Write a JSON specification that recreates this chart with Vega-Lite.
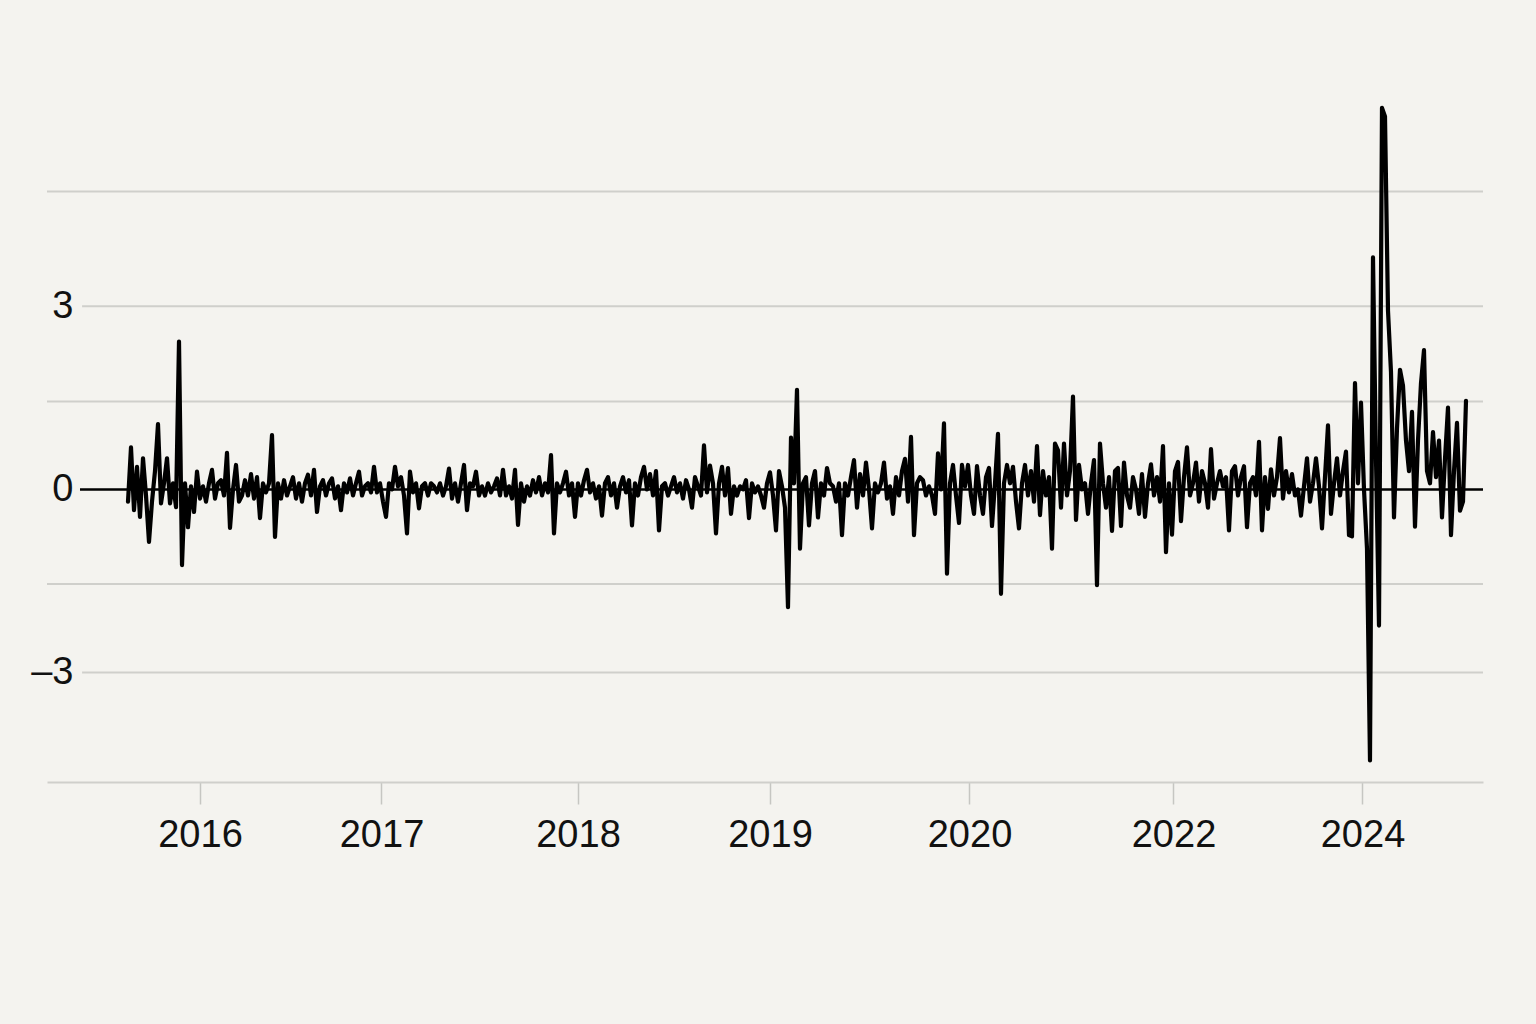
{
"$schema":"https://vega.github.io/schema/vega-lite/v6.json",
"width":1436,"height":692,
"autosize":{"type":"none"},
"padding":{"left":47,"top":90,"right":53,"bottom":242},
"background":"#f4f3ef",
"config":{"view":{"stroke":null},"font":"Liberation Sans"},
"layer":[
{"data":{"values":[{"g":4.88},{"g":1.44},{"g":-1.55}]},
 "mark":{"type":"rule","color":"#cfcfcb","strokeWidth":2},
 "encoding":{"y":{"field":"g","type":"quantitative","title":null,"scale":{"domain":[-4.793,6.542],"nice":false,"zero":false}}}},
{"data":{"values":[{"g":3},{"g":-3}]},
 "mark":{"type":"rule","color":"#cfcfcb","strokeWidth":2},
 "encoding":{"y":{"field":"g","type":"quantitative","title":null},
  "x":{"datum":-15.3,"type":"quantitative","title":null},"x2":{"datum":451.67}}},
{"data":{"values":[{"g":0}]},
 "mark":{"type":"rule","color":"#000","strokeWidth":2.5},
 "encoding":{"y":{"field":"g","type":"quantitative","title":null},
  "x":{"datum":-16,"type":"quantitative","title":null},"x2":{"datum":451.67}}},
{"data":{"values":[
{"t":0,"v":-0.2},{"t":1,"v":0.69},{"t":2,"v":-0.34},{"t":3,"v":0.37},{"t":4,"v":-0.45},{"t":5,"v":0.51},{"t":6,"v":-0.1},{"t":7,"v":-0.86},{"t":8,"v":-0.2},{"t":9,"v":0.3},
{"t":10,"v":1.07},{"t":11,"v":-0.23},{"t":12,"v":0.1},{"t":13,"v":0.51},{"t":14,"v":-0.23},{"t":15,"v":0.1},{"t":16,"v":-0.29},{"t":17,"v":2.42},{"t":18,"v":-1.24},{"t":19,"v":0.1},
{"t":20,"v":-0.62},{"t":21,"v":0.05},{"t":22,"v":-0.37},{"t":23,"v":0.29},{"t":24,"v":-0.15},{"t":25,"v":0.05},{"t":26,"v":-0.2},{"t":27,"v":0.1},{"t":28,"v":0.32},{"t":29,"v":-0.15},
{"t":30,"v":0.1},{"t":31,"v":0.15},{"t":32,"v":-0.1},{"t":33,"v":0.6},{"t":34,"v":-0.63},{"t":35,"v":0.0},{"t":36,"v":0.4},{"t":37,"v":-0.2},{"t":38,"v":-0.1},{"t":39,"v":0.15},
{"t":40,"v":-0.1},{"t":41,"v":0.25},{"t":42,"v":-0.15},{"t":43,"v":0.2},{"t":44,"v":-0.47},{"t":45,"v":0.1},{"t":46,"v":-0.05},{"t":47,"v":0.1},{"t":48,"v":0.89},{"t":49,"v":-0.78},
{"t":50,"v":0.1},{"t":51,"v":-0.15},{"t":52,"v":0.15},{"t":53,"v":-0.1},{"t":54,"v":0.05},{"t":55,"v":0.2},{"t":56,"v":-0.15},{"t":57,"v":0.1},{"t":58,"v":-0.2},{"t":59,"v":0.1},
{"t":60,"v":0.24},{"t":61,"v":-0.1},{"t":62,"v":0.32},{"t":63,"v":-0.37},{"t":64,"v":0.05},{"t":65,"v":0.15},{"t":66,"v":-0.1},{"t":67,"v":0.1},{"t":68,"v":0.18},{"t":69,"v":-0.15},
{"t":70,"v":0.05},{"t":71,"v":-0.34},{"t":72,"v":0.1},{"t":73,"v":-0.05},{"t":74,"v":0.18},{"t":75,"v":-0.1},{"t":76,"v":0.1},{"t":77,"v":0.29},{"t":78,"v":-0.1},{"t":79,"v":0.05},
{"t":80,"v":0.1},{"t":81,"v":-0.05},{"t":82,"v":0.37},{"t":83,"v":-0.05},{"t":84,"v":0.1},{"t":85,"v":-0.2},{"t":86,"v":-0.45},{"t":87,"v":0.1},{"t":88,"v":0.0},{"t":89,"v":0.37},
{"t":90,"v":0.05},{"t":91,"v":0.2},{"t":92,"v":-0.1},{"t":93,"v":-0.72},{"t":94,"v":0.29},{"t":95,"v":-0.05},{"t":96,"v":0.1},{"t":97,"v":-0.31},{"t":98,"v":0.05},{"t":99,"v":0.1},
{"t":100,"v":-0.1},{"t":101,"v":0.1},{"t":102,"v":0.05},{"t":103,"v":-0.05},{"t":104,"v":0.1},{"t":105,"v":-0.1},{"t":106,"v":0.05},{"t":107,"v":0.34},{"t":108,"v":-0.15},{"t":109,"v":0.1},
{"t":110,"v":-0.2},{"t":111,"v":0.1},{"t":112,"v":0.4},{"t":113,"v":-0.34},{"t":114,"v":0.1},{"t":115,"v":0.05},{"t":116,"v":0.29},{"t":117,"v":-0.1},{"t":118,"v":0.05},{"t":119,"v":-0.1},
{"t":120,"v":0.1},{"t":121,"v":-0.05},{"t":122,"v":0.05},{"t":123,"v":0.18},{"t":124,"v":-0.1},{"t":125,"v":0.32},{"t":126,"v":-0.1},{"t":127,"v":0.05},{"t":128,"v":-0.15},{"t":129,"v":0.32},
{"t":130,"v":-0.58},{"t":131,"v":0.1},{"t":132,"v":-0.2},{"t":133,"v":0.05},{"t":134,"v":-0.1},{"t":135,"v":0.15},{"t":136,"v":-0.05},{"t":137,"v":0.2},{"t":138,"v":-0.1},{"t":139,"v":0.1},
{"t":140,"v":-0.05},{"t":141,"v":0.56},{"t":142,"v":-0.72},{"t":143,"v":0.1},{"t":144,"v":-0.05},{"t":145,"v":0.1},{"t":146,"v":0.29},{"t":147,"v":-0.1},{"t":148,"v":0.1},{"t":149,"v":-0.45},
{"t":150,"v":0.1},{"t":151,"v":-0.1},{"t":152,"v":0.15},{"t":153,"v":0.32},{"t":154,"v":-0.05},{"t":155,"v":0.1},{"t":156,"v":-0.15},{"t":157,"v":0.05},{"t":158,"v":-0.43},{"t":159,"v":0.1},
{"t":160,"v":0.2},{"t":161,"v":-0.1},{"t":162,"v":0.1},{"t":163,"v":-0.3},{"t":164,"v":0.05},{"t":165,"v":0.2},{"t":166,"v":-0.05},{"t":167,"v":0.15},{"t":168,"v":-0.59},{"t":169,"v":0.1},
{"t":170,"v":-0.1},{"t":171,"v":0.2},{"t":172,"v":0.37},{"t":173,"v":0.0},{"t":174,"v":0.25},{"t":175,"v":-0.1},{"t":176,"v":0.3},{"t":177,"v":-0.67},{"t":178,"v":0.05},{"t":179,"v":0.1},
{"t":180,"v":-0.1},{"t":181,"v":0.05},{"t":182,"v":0.2},{"t":183,"v":-0.05},{"t":184,"v":0.1},{"t":185,"v":-0.15},{"t":186,"v":0.15},{"t":187,"v":0.0},{"t":188,"v":-0.3},{"t":189,"v":0.2},
{"t":190,"v":0.05},{"t":191,"v":-0.1},{"t":192,"v":0.72},{"t":193,"v":-0.05},{"t":194,"v":0.39},{"t":195,"v":0.1},{"t":196,"v":-0.72},{"t":197,"v":0.1},{"t":198,"v":0.37},{"t":199,"v":-0.1},
{"t":200,"v":0.35},{"t":201,"v":-0.4},{"t":202,"v":0.05},{"t":203,"v":-0.1},{"t":204,"v":0.05},{"t":205,"v":0.0},{"t":206,"v":0.15},{"t":207,"v":-0.47},{"t":208,"v":0.1},{"t":209,"v":-0.05},
{"t":210,"v":0.05},{"t":211,"v":-0.1},{"t":212,"v":-0.3},{"t":213,"v":0.1},{"t":214,"v":0.28},{"t":215,"v":-0.1},{"t":216,"v":-0.67},{"t":217,"v":0.3},{"t":218,"v":0.05},{"t":219,"v":-0.3},
{"t":220,"v":-1.93},{"t":221,"v":0.85},{"t":222,"v":0.1},{"t":223,"v":1.63},{"t":224,"v":-0.97},{"t":225,"v":0.1},{"t":226,"v":0.2},{"t":227,"v":-0.59},{"t":228,"v":0.1},{"t":229,"v":0.3},
{"t":230,"v":-0.46},{"t":231,"v":0.1},{"t":232,"v":-0.1},{"t":233,"v":0.35},{"t":234,"v":0.1},{"t":235,"v":0.05},{"t":236,"v":-0.2},{"t":237,"v":0.1},{"t":238,"v":-0.75},{"t":239,"v":0.1},
{"t":240,"v":-0.1},{"t":241,"v":0.2},{"t":242,"v":0.48},{"t":243,"v":-0.3},{"t":244,"v":0.25},{"t":245,"v":-0.1},{"t":246,"v":0.44},{"t":247,"v":0.0},{"t":248,"v":-0.64},{"t":249,"v":0.1},
{"t":250,"v":-0.05},{"t":251,"v":0.1},{"t":252,"v":0.44},{"t":253,"v":-0.15},{"t":254,"v":0.05},{"t":255,"v":-0.4},{"t":256,"v":0.2},{"t":257,"v":-0.1},{"t":258,"v":0.3},{"t":259,"v":0.5},
{"t":260,"v":-0.2},{"t":261,"v":0.86},{"t":262,"v":-0.75},{"t":263,"v":0.1},{"t":264,"v":0.2},{"t":265,"v":0.15},{"t":266,"v":-0.1},{"t":267,"v":0.05},{"t":268,"v":-0.1},{"t":269,"v":-0.4},
{"t":270,"v":0.59},{"t":271,"v":0.0},{"t":272,"v":1.08},{"t":273,"v":-1.38},{"t":274,"v":0.1},{"t":275,"v":0.4},{"t":276,"v":-0.1},{"t":277,"v":-0.55},{"t":278,"v":0.4},{"t":279,"v":0.05},
{"t":280,"v":0.4},{"t":281,"v":-0.1},{"t":282,"v":-0.4},{"t":283,"v":0.38},{"t":284,"v":-0.1},{"t":285,"v":-0.4},{"t":286,"v":0.2},{"t":287,"v":0.35},{"t":288,"v":-0.6},{"t":289,"v":0.1},
{"t":290,"v":0.91},{"t":291,"v":-1.71},{"t":292,"v":0.1},{"t":293,"v":0.4},{"t":294,"v":0.1},{"t":295,"v":0.37},{"t":296,"v":-0.2},{"t":297,"v":-0.64},{"t":298,"v":0.1},{"t":299,"v":0.4},
{"t":300,"v":-0.1},{"t":301,"v":0.3},{"t":302,"v":-0.2},{"t":303,"v":0.71},{"t":304,"v":-0.42},{"t":305,"v":0.3},{"t":306,"v":-0.1},{"t":307,"v":0.2},{"t":308,"v":-0.97},{"t":309,"v":0.75},
{"t":310,"v":0.64},{"t":311,"v":-0.3},{"t":312,"v":0.75},{"t":313,"v":-0.1},{"t":314,"v":0.3},{"t":315,"v":1.52},{"t":316,"v":-0.5},{"t":317,"v":0.4},{"t":318,"v":0.0},{"t":319,"v":0.1},
{"t":320,"v":-0.4},{"t":321,"v":0.1},{"t":322,"v":0.48},{"t":323,"v":-1.57},{"t":324,"v":0.75},{"t":325,"v":0.1},{"t":326,"v":-0.3},{"t":327,"v":0.2},{"t":328,"v":-0.68},{"t":329,"v":0.3},
{"t":330,"v":0.35},{"t":331,"v":-0.6},{"t":332,"v":0.44},{"t":333,"v":-0.1},{"t":334,"v":-0.3},{"t":335,"v":0.2},{"t":336,"v":0.0},{"t":337,"v":-0.4},{"t":338,"v":0.25},{"t":339,"v":-0.45},
{"t":340,"v":0.1},{"t":341,"v":0.41},{"t":342,"v":-0.1},{"t":343,"v":0.2},{"t":344,"v":-0.2},{"t":345,"v":0.71},{"t":346,"v":-1.03},{"t":347,"v":0.1},{"t":348,"v":-0.74},{"t":349,"v":0.3},
{"t":350,"v":0.45},{"t":351,"v":-0.52},{"t":352,"v":0.2},{"t":353,"v":0.69},{"t":354,"v":-0.1},{"t":355,"v":0.1},{"t":356,"v":0.44},{"t":357,"v":-0.2},{"t":358,"v":0.3},{"t":359,"v":0.1},
{"t":360,"v":-0.3},{"t":361,"v":0.66},{"t":362,"v":-0.15},{"t":363,"v":0.1},{"t":364,"v":0.3},{"t":365,"v":0.05},{"t":366,"v":0.2},{"t":367,"v":-0.67},{"t":368,"v":0.3},{"t":369,"v":0.38},
{"t":370,"v":-0.1},{"t":371,"v":0.2},{"t":372,"v":0.38},{"t":373,"v":-0.62},{"t":374,"v":0.1},{"t":375,"v":0.2},{"t":376,"v":-0.1},{"t":377,"v":0.78},{"t":378,"v":-0.67},{"t":379,"v":0.2},
{"t":380,"v":-0.32},{"t":381,"v":0.33},{"t":382,"v":-0.1},{"t":383,"v":0.2},{"t":384,"v":0.84},{"t":385,"v":-0.15},{"t":386,"v":0.3},{"t":387,"v":-0.05},{"t":388,"v":0.25},{"t":389,"v":-0.1},
{"t":390,"v":0.0},{"t":391,"v":-0.43},{"t":392,"v":0.05},{"t":393,"v":0.51},{"t":394,"v":-0.2},{"t":395,"v":0.1},{"t":396,"v":0.51},{"t":397,"v":0.05},{"t":398,"v":-0.64},{"t":399,"v":0.2},
{"t":400,"v":1.05},{"t":401,"v":-0.4},{"t":402,"v":0.1},{"t":403,"v":0.51},{"t":404,"v":-0.1},{"t":405,"v":0.3},{"t":406,"v":0.62},{"t":407,"v":-0.75},{"t":408,"v":-0.77},{"t":409,"v":1.74},
{"t":410,"v":0.1},{"t":411,"v":1.42},{"t":412,"v":0.0},{"t":413,"v":-0.97},{"t":414,"v":-4.44},{"t":415,"v":3.8},{"t":416,"v":0.5},{"t":417,"v":-2.23},{"t":418,"v":6.25},{"t":419,"v":6.11},
{"t":420,"v":2.93},{"t":421,"v":1.92},{"t":422,"v":-0.46},{"t":423,"v":1.0},{"t":424,"v":1.96},{"t":425,"v":1.7},{"t":426,"v":0.8},{"t":427,"v":0.3},{"t":428,"v":1.27},{"t":429,"v":-0.61},
{"t":430,"v":0.8},{"t":431,"v":1.74},{"t":432,"v":2.28},{"t":433,"v":0.3},{"t":434,"v":0.1},{"t":435,"v":0.94},{"t":436,"v":0.2},{"t":437,"v":0.8},{"t":438,"v":-0.46},{"t":439,"v":0.5},
{"t":440,"v":1.34},{"t":441,"v":-0.75},{"t":442,"v":0.3},{"t":443,"v":1.09},{"t":444,"v":-0.35},{"t":445,"v":-0.2},{"t":446,"v":1.45}
]},
 "mark":{"type":"line","color":"#000","strokeWidth":4.2,"strokeJoin":"round","strokeCap":"round","clip":false},
 "encoding":{
  "x":{"field":"t","type":"quantitative","scale":{"domain":[-27,451.67],"nice":false,"zero":false},
   "axis":{"title":null,"values":[24,84.5,150,214,280.5,348.5,411.5],
    "labelExpr":"datum.value<50?'2016':datum.value<120?'2017':datum.value<180?'2018':datum.value<250?'2019':datum.value<300?'2020':datum.value<380?'2022':'2024'",
    "grid":false,"domainColor":"#cfcfcb","domainWidth":2,"tickColor":"#c6c6c2","tickWidth":1.5,"tickSize":22,
    "labelPadding":12,"labelFontSize":38,"labelFont":"Liberation Sans","labelColor":"#111","labelFlush":false,"labelOverlap":false}},
  "y":{"field":"v","type":"quantitative","scale":{"domain":[-4.793,6.542],"nice":false,"zero":false},
   "axis":{"title":null,"values":[3,0,-3],"labelExpr":"datum.value==0?'0':datum.value>0?'3':'\u20133'",
    "grid":false,"domain":false,"ticks":false,"tickSize":0,"labelPadding":-26,
    "labelFontSize":38,"labelFont":"Liberation Sans","labelColor":"#111"}}
 }}
]
}
